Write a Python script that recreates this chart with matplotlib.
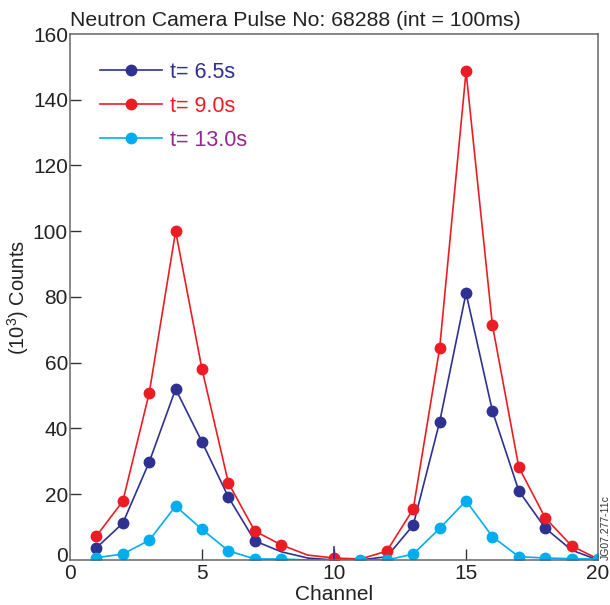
import matplotlib
matplotlib.use('Agg')
from matplotlib import pyplot as plt
from matplotlib.transforms import ScaledTranslation

plt.rcParams['font.family'] = ['Liberation Sans', 'DejaVu Sans']
plt.rcParams['mathtext.fontset'] = 'custom'
plt.rcParams['mathtext.rm'] = 'Liberation Sans'

channels = list(range(1, 21))

# (10^3) counts per channel
t65 = [3.7, 11.2, 29.8, 52.0, 35.9, 19.1, 5.8, 2.5, 0.6, 0.0,
       0.0, 1.0, 10.6, 42.0, 81.2, 45.3, 21.0, 9.7, 3.0, 0.0]
t90 = [7.3, 17.9, 50.8, 100.0, 58.0, 23.4, 8.8, 4.6, 1.5, 0.6,
       0.3, 2.7, 15.5, 64.4, 148.6, 71.4, 28.2, 12.8, 4.3, 0.3]
t130 = [0.7, 1.8, 6.0, 16.4, 9.3, 2.8, 0.3, 0.3, 0.0, 0.0,
        0.0, 0.0, 1.8, 9.6, 18.0, 7.1, 1.0, 0.6, 0.4, 0.3]

# which points carry a dot (index into channels)
mk65 = [0, 1, 2, 3, 4, 5, 6, 12, 13, 14, 15, 16, 17]
mk90 = [0, 1, 2, 3, 4, 5, 6, 7, 9, 11, 12, 13, 14, 15, 16, 17, 18]
mk130 = [0, 1, 2, 3, 4, 5, 6, 7, 10, 11, 12, 13, 14, 15, 16, 17, 18, 19]

labels = ['t= 6.5s', 't= 9.0s', 't= 13.0s']
navy = '#2E3192'
red = '#ED1C24'
cyan = '#00AEEF'
purple = '#92278F'

fig = plt.figure(figsize=(6.1, 6.05), dpi=100)
ax = fig.add_axes([0.1148, 0.0744, 0.8656, 0.8694])

ax.plot(channels, t65, '-o', color=navy, lw=1.2, ms=7.5, markevery=mk65, label=labels[0])
ax.plot(channels, t90, '-o', color=red, lw=1.2, ms=7.5, markevery=mk90, label=labels[1])
ax.plot(channels, t130, '-o', color=cyan, lw=1.2, ms=7.5, markevery=mk130, label=labels[2])
ax.plot([10, 10], [0, 4], color=navy, lw=1.2)

ax.set_xlim(0, 20)
ax.set_ylim(0, 160)
ax.set_xticks([0, 5, 10, 15, 20])
ax.set_yticks(range(0, 161, 20))

for s in ax.spines.values():
    s.set_color('#666666')
    s.set_linewidth(1.1)

ax.tick_params(axis='x', direction='in', length=8, width=1, color='#333333',
               labelsize=15, pad=3, labelcolor='#222222')
ax.tick_params(axis='y', direction='in', length=8, width=1, color='#333333',
               labelsize=15, pad=1.5, labelcolor='#222222')
# hide the tick marks that fall on the frame corners
for t in [ax.xaxis.get_major_ticks()[0], ax.xaxis.get_major_ticks()[-1],
          ax.yaxis.get_major_ticks()[0], ax.yaxis.get_major_ticks()[-1]]:
    t.tick1line.set_visible(False)

# lift the y "0" a little, like the original
lab0 = ax.yaxis.get_major_ticks()[0].label1
lab0.set_transform(lab0.get_transform() + ScaledTranslation(0, 4 / 72, fig.dpi_scale_trans))

ax.set_xlabel('Channel', fontsize=15, color='#222222', labelpad=1)
ax.set_ylabel('(10$^3$) Counts', fontsize=14.5, color='#222222', labelpad=1)
ax.set_title('Neutron Camera Pulse No: 68288 (int = 100ms)', fontsize=15.3,
             loc='left', color='#222222', pad=6)

ax.legend(loc='upper left', bbox_to_anchor=(0.02, 0.984), frameon=False,
          fontsize=15.5, handlelength=2.9, handletextpad=0.37, labelspacing=0.6,
          labelcolor=[navy, red, purple])

fig.text(0.993, 0.075, 'JG07.277-11c', rotation=90, fontsize=7.5,
         color='#333333', ha='center', va='bottom')

fig.savefig('out.png', dpi=100)
